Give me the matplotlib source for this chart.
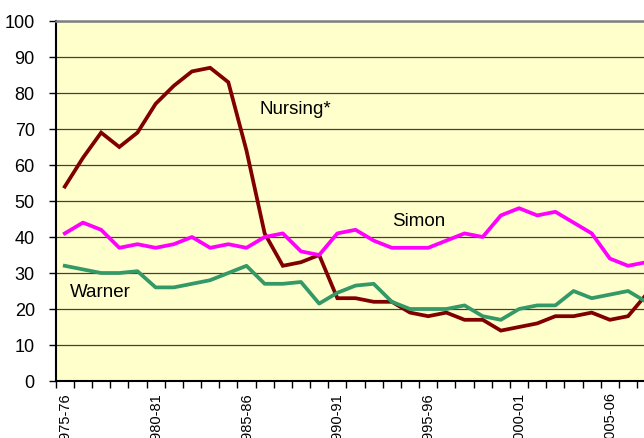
import matplotlib
matplotlib.use("Agg")
import matplotlib.pyplot as plt
from matplotlib.ticker import FixedLocator

plt.rcParams['font.family'] = ['Liberation Sans', 'DejaVu Sans']

years = [f"{y}-{str(y + 1)[-2:]}" for y in range(1975, 2008)]

nursing = [54, 62, 69, 65, 69, 77, 82, 86, 87, 83,
           64, 41, 32, 33, 35, 23, 23, 22, 22, 19,
           18, 19, 17, 17, 14, 15, 16, 18, 18, 19,
           17, 18, 24]
simon = [41, 44, 42, 37, 38, 37, 38, 40, 37, 38,
         37, 40, 41, 36, 35, 41, 42, 39, 37, 37,
         37, 39, 41, 40, 46, 48, 46, 47, 44, 41,
         34, 32, 33]
warner = [32, 31, 30, 30, 30.5, 26, 26, 27, 28, 30,
          32, 27, 27, 27.5, 21.5, 24.5, 26.5, 27, 22, 20,
          20, 20, 21, 18, 17, 20, 21, 21, 25, 23,
          24, 25, 22]

series_labels = ["Nursing*", "Simon", "Warner"]
label_pos = [(10.7, 75.6), (18.0, 44.5), (0.29, 24.8)]

W, H = 644, 439
fig = plt.figure(figsize=(W / 100, H / 100), dpi=100)
left_px, top_px, bottom_px = 55.7, 22, 382
step = 18.17
ncat = 34
ax = fig.add_axes([left_px / W, (H - bottom_px) / H,
                   step * ncat / W, (bottom_px - top_px) / H])
ax.set_facecolor('#FFFFCC')

x = list(range(len(years)))
lw = 2.7
ax.plot(x, nursing, color='#800000', lw=lw, solid_joinstyle='miter', zorder=3)
ax.plot(x, simon, color='#FF00FF', lw=lw, zorder=3)
ax.plot(x, warner, color='#339966', lw=lw, zorder=3)

for lab, (tx, ty) in zip(series_labels, label_pos):
    ax.text(tx, ty, lab, fontsize=13.5, va='center', ha='left', color='#000000')

ax.set_xlim(-0.5, ncat - 0.5)
ax.set_ylim(0, 100)

ax.set_yticks(range(0, 101, 10))
ax.tick_params(axis='y', length=5, width=1, labelsize=13, pad=10, direction='out')
ax.yaxis.grid(True, color='#404040', lw=0.9)
ax.set_axisbelow(True)

major = list(range(0, len(years), 5))
ax.set_xticks(major)
ax.set_xticklabels([years[i] for i in major], rotation=90)
ax.tick_params(axis='x', which='major', length=0, labelsize=10.5, pad=7.5)
ax.xaxis.set_minor_locator(FixedLocator([i - 0.5 for i in range(ncat + 1)]))
ax.tick_params(axis='x', which='minor', length=5, width=1, direction='out')

for s in ['left', 'bottom']:
    ax.spines[s].set_color('black')
    ax.spines[s].set_linewidth(1.5)
ax.spines['top'].set_color('#808080')
ax.spines['top'].set_linewidth(1.8)
ax.spines['right'].set_visible(False)

fig.savefig('out.png', dpi=100)
